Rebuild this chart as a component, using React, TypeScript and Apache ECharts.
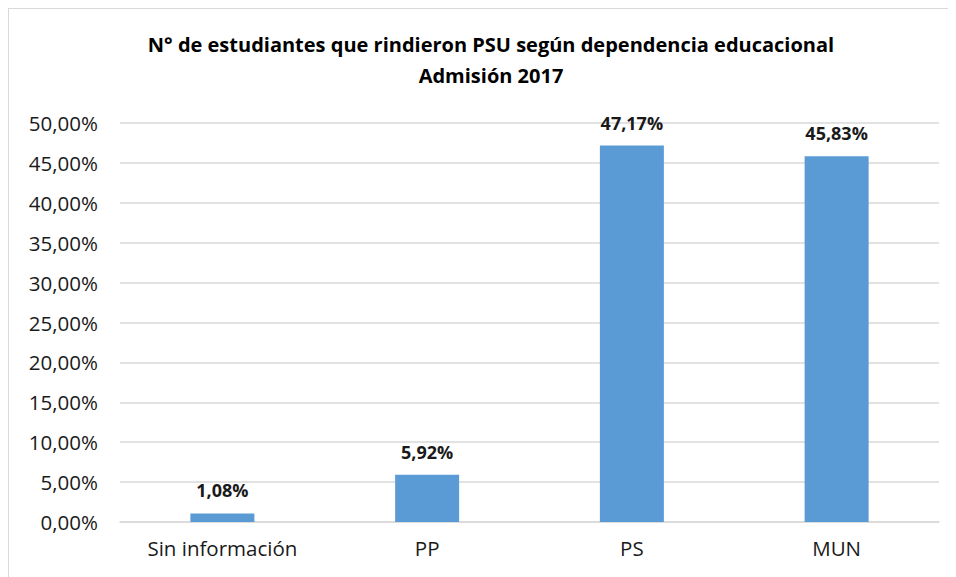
import React, { useEffect, useRef } from "react";
import * as echarts from "echarts";

const categories = ["Sin información", "PP", "PS", "MUN"];
const values = [1.08, 5.92, 47.17, 45.83];
const titleLines = ["N° de estudiantes que rindieron PSU según dependencia educacional", "Admisión 2017"];

const fmt = (v: number) => v.toFixed(2).replace(".", ",") + "%";
const FONT = "'Open Sans', sans-serif";

export default function App() {
  const ref = useRef<HTMLDivElement>(null);
  useEffect(() => {
    if (!ref.current) return;
    const chart = echarts.init(ref.current, null, { renderer: "svg" });
    chart.setOption({
      animation: false,
      backgroundColor: "#ffffff",
      title: {
        text: titleLines.join("\n"),
        left: 477,
        top: 15,
        textAlign: "center",
        textStyle: {
          fontFamily: FONT,
          fontWeight: "bold",
          fontSize: 20,
          lineHeight: 31,
          color: "#000000",
        },
      },
      grid: { left: 111, right: 17, top: 114, bottom: 55 },
      xAxis: {
        type: "category",
        data: categories,
        axisLine: { show: true, lineStyle: { color: "#d9d9d9", width: 1.5 } },
        axisTick: { show: false },
        axisLabel: { fontFamily: FONT, fontSize: 20.5, color: "#1a1a1a", margin: 15 },
      },
      yAxis: {
        type: "value",
        min: 0,
        max: 50,
        interval: 5,
        axisLine: { show: false },
        axisTick: { show: false },
        splitLine: { lineStyle: { color: "#d9d9d9", width: 1.5 } },
        axisLabel: { fontFamily: FONT, fontSize: 20.5, color: "#1a1a1a", margin: 22, formatter: fmt },
      },
      series: [
        {
          type: "bar",
          data: values,
          barWidth: 64,
          itemStyle: { color: "#5b9bd5" },
          label: {
            show: true,
            position: "top",
            distance: 14,
            fontFamily: FONT,
            fontWeight: "bold",
            fontSize: 18,
            color: "#1a1a1a",
            formatter: (p: any) => fmt(p.value),
          },
        },
      ],
    });
    return () => chart.dispose();
  }, []);
  return (
    <div
      style={{
        width: 948,
        height: 569,
        boxSizing: "border-box",
        borderLeft: "1px solid #d9d9d9",
        borderTop: "1px solid #d9d9d9",
      }}
    >
      <div ref={ref} style={{ width: 947, height: 568 }} />
    </div>
  );
}
